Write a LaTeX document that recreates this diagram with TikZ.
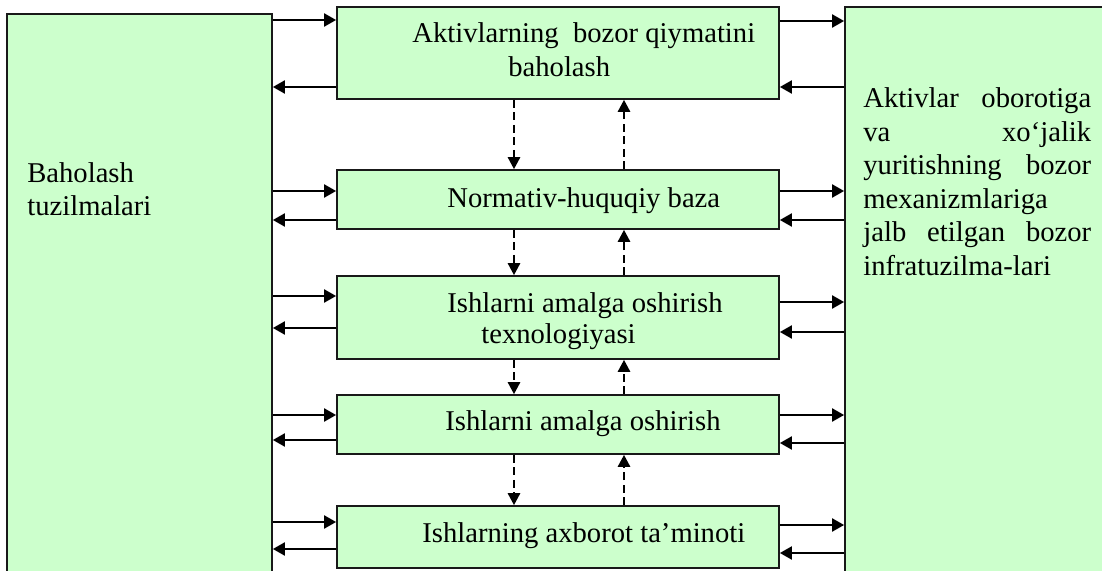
\documentclass[tikz,border=0pt]{standalone}
\usepackage{fontspec}
\setmainfont{Liberation Serif}
\usepackage{tikz}
\usetikzlibrary{arrows.meta, fit}
\definecolor{boxgreen}{HTML}{CCFFCC}
\tikzset{
  blk/.style={draw=black!90, line width=1pt, fill=boxgreen, inner sep=0pt},
  txt/.style={inner sep=0pt, anchor=base west, font=\fontsize{16.3}{19.06}\selectfont},
  flow/.style={line width=1.1pt, -{Triangle[length=6.8pt, width=7.4pt]}},
  dflow/.style={line width=1pt, dash pattern=on 4.5pt off 2.6pt, -{Triangle[length=6.8pt, width=7pt]}},
}

\begin{document}
\begin{tikzpicture}[x=0.02cm, y=-0.02cm]
  \useasboundingbox (0,0) rectangle (1102,571);
  \clip (0,0) rectangle (1102,571);
  \node[blk, fit={(7,14) (272,610)}] (lft) {};
  \node[blk, fit={(845,7) (1130,610)}] (rgt) {};
  \node[blk, fit={(337,7) (779,99)}] (b1) {};
  \node[blk, fit={(337,170) (779,229)}] (b2) {};
  \node[blk, fit={(337,276) (779,359)}] (b3) {};
  \node[blk, fit={(337,395) (779,454)}] (b4) {};
  \node[blk, fit={(337,506) (779,568)}] (b5) {};

  \node[txt] (tl1) at (27,182) {Baholash};
  \node[txt] (tl2) at (27,215) {tuzilmalari};
  \node[txt] (t11) at (412,43) {Aktivlarning\ \ bozor qiymatini};
  \node[txt] (t12) at (508,77) {baholash};
  \node[txt] (t2) at (447,207) {Normativ-huquqiy baza};
  \node[txt] (t31) at (447,312) {Ishlarni amalga oshirish};
  \node[txt] (t32) at (481,343) {texnologiyasi};
  \node[txt] (t4) at (445,430) {Ishlarni amalga oshirish};
  \node[txt] (t5) at (422,542) {Ishlarning axborot ta’minoti};
  \node[txt, text width=129.7pt, align=justify] (tr) at (863,108)
    {\hyphenpenalty=10000\exhyphenpenalty=10000
     Aktivlar oborotiga\linebreak va xo‘jalik\linebreak yuritishning bozor\linebreak
     mexanizmlariga\linebreak jalb etilgan bozor\linebreak infratuzilma-lari};

  \foreach \b/\la/\lb/\ra/\rb in {b1/20/87/21/87, b2/191/220/191/220, b3/296/328/302/332,
                                  b4/415/440/415/443, b5/522/549/525/553}{
    \draw[flow] (lft.east |- 0,\la) -- (\b.west |- 0,\la);
    \draw[flow] (\b.west |- 0,\lb) -- (lft.east |- 0,\lb);
    \draw[flow] (\b.east |- 0,\ra) -- (rgt.west |- 0,\ra);
    \draw[flow] (rgt.west |- 0,\rb) -- (\b.east |- 0,\rb);
  }
  \foreach \u/\d in {b1/b2, b2/b3, b3/b4, b4/b5}{
    \draw[dflow] (\u.south -| 514,0) -- (\d.north -| 514,0);
    \draw[dflow] (\d.north -| 624,0) -- (\u.south -| 624,0);
  }
\end{tikzpicture}
\end{document}
